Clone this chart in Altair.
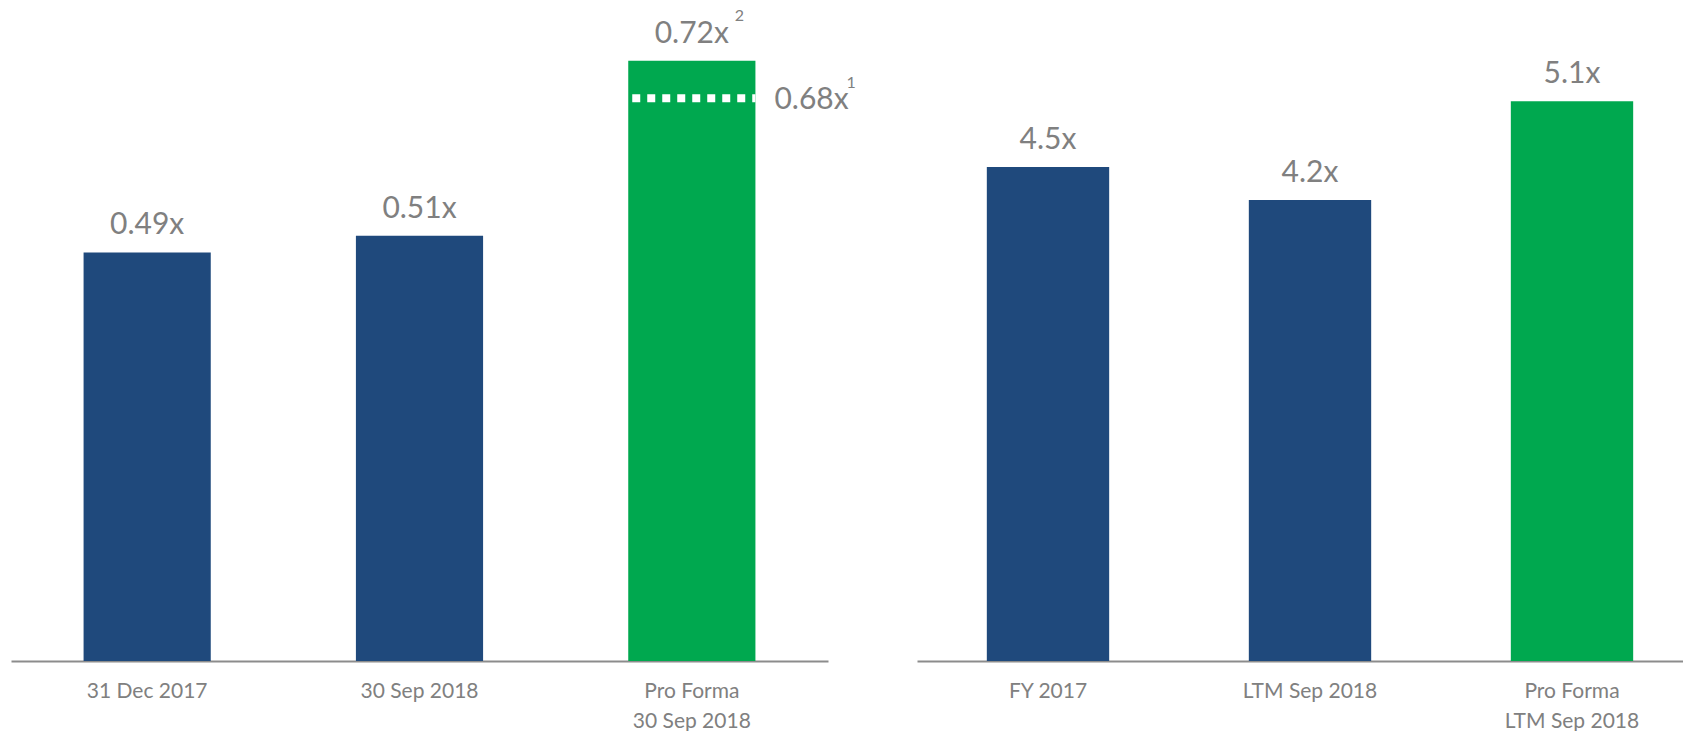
import altair as alt
import pandas as pd

# ---------------- data ----------------
left_cats = ["31 Dec 2017", "30 Sep 2018", "Pro Forma\n30 Sep 2018"]
left_values = [0.49, 0.51, 0.72]
left_labels = ["0.49x", "0.51x", "0.72x"]
left_kinds = ["Reported", "Reported", "Pro Forma"]
left_notes = ["", "", "2"]

pre_cat = ["Pro Forma\n30 Sep 2018"]
pre_values = [0.675]
pre_labels = ["0.68x"]
pre_notes = ["1"]

right_cats = ["FY 2017", "LTM Sep 2018", "Pro Forma\nLTM Sep 2018"]
right_values = [4.5, 4.2, 5.1]
right_labels = ["4.5x", "4.2x", "5.1x"]
right_kinds = ["Reported", "Reported", "Pro Forma"]
right_notes = ["", "", ""]

NAVY = "#1F497C"
GREEN = "#00A84F"
GRAY = "#808080"
AXIS_GRAY = "#8C8C8C"
FONT = "Lato"


def x_enc(cats, **kw):
    return alt.X(
        "cat:N",
        sort=cats,
        scale=alt.Scale(domain=cats, paddingInner=0.533, paddingOuter=0.2665),
        axis=alt.Axis(
            title=None,
            labelAngle=0,
            ticks=False,
            labelFontSize=21,
            labelFont=FONT,
            labelColor=GRAY,
            labelPadding=15,
            labelLineHeight=30,
            labelBaseline="line-top",
            labelExpr="split(datum.label, '\\n')",
            domainColor=AXIS_GRAY,
            domainWidth=2,
            grid=False,
        ),
        **kw,
    )


def y_enc(ymax):
    return alt.Y("value:Q", scale=alt.Scale(domain=[0, ymax]), axis=None)


def panel(cats, values, labels, kinds, notes, ymax, width, pre=None):
    df = pd.DataFrame({"cat": cats, "value": values, "label": labels,
                       "kind": kinds, "note": notes})
    base = alt.Chart(df)
    bars = base.mark_bar().encode(
        x=x_enc(cats),
        y=y_enc(ymax),
        color=alt.Color("kind:N",
                        scale=alt.Scale(domain=["Reported", "Pro Forma"],
                                        range=[NAVY, GREEN]),
                        legend=None),
    )
    text = base.mark_text(dy=-27, fontSize=30, font=FONT, color=GRAY).encode(
        x=x_enc(cats), y=y_enc(ymax), text="label:N")
    sup = base.transform_filter("datum.note != ''").mark_text(
        align="left", dx=43, dy=-45, fontSize=16, font=FONT, color=GRAY
    ).encode(x=x_enc(cats), y=y_enc(ymax), text="note:N")
    layers = [bars, text, sup]
    if pre is not None:
        pdf = pd.DataFrame(pre)
        pbase = alt.Chart(pdf)
        rule = pbase.mark_rule(color="white", strokeWidth=8, strokeDash=[8, 7],
                               strokeCap="butt", strokeDashOffset=-4).encode(
            x=x_enc(cats, bandPosition=0),
            x2=alt.X2("cat", bandPosition=1),
            y=y_enc(ymax),
        )
        ptext = pbase.mark_text(align="left", dx=19, dy=2, fontSize=30,
                                font=FONT, color=GRAY).encode(
            x=x_enc(cats, bandPosition=1), y=y_enc(ymax), text="label:N")
        pnote = pbase.mark_text(align="left", dx=91, dy=-15, fontSize=16,
                                font=FONT, color=GRAY).encode(
            x=x_enc(cats, bandPosition=1), y=y_enc(ymax), text="note:N")
        layers += [rule, ptext, pnote]
    return alt.layer(*layers).properties(width=width, height=652)


left = panel(left_cats, left_values, left_labels, left_kinds, left_notes,
             0.782, 817,
             pre={"cat": pre_cat, "value": pre_values, "label": pre_labels,
                  "note": pre_notes})
right = panel(right_cats, right_values, right_labels, right_kinds, right_notes,
              5.94, 786)

chart = alt.hconcat(left, right, spacing=89).properties(
    bounds="flush",
    padding={"left": 3, "top": -1, "right": -20, "bottom": 0},
).configure_view(strokeWidth=0)

chart.save("out.html", embed_options={"renderer": "svg", "actions": False})
